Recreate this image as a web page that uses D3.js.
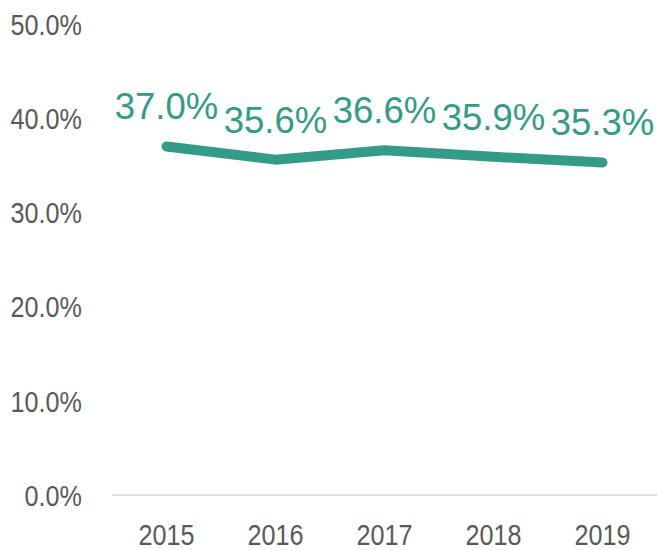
<!DOCTYPE html>
<html lang="en">
<head>
    <meta charset="UTF-8">
    <title>Share by year</title>
    <script src="https://cdn.jsdelivr.net/npm/d3@7/dist/d3.min.js"></script>
    <style>
        body { margin: 0; background: #fff; }
        text { font-family: "Liberation Sans", Arial, sans-serif; }
    </style>
</head>
<body>
    <script>
        // data
        var years = ['2015', '2016', '2017', '2018', '2019'];
        var values = [37.0, 35.6, 36.6, 35.9, 35.3];
        var yTicks = [0, 10, 20, 30, 40, 50];

        var w = 657;
        var h = 550;
        var teal = '#339b87';
        var grey = '#595959';

        var svg = d3.select('body')
                    .append('svg')
                    .attr('width', w)
                    .attr('height', h);

        var xScale = d3.scaleBand()
                        .domain(years)
                        .range([112, 657]);

        var yScale = d3.scaleLinear()
                        .domain([0, 50])
                        .range([495, 24]);

        //baseline
        svg.append('line')
            .attr('x1', 112)
            .attr('x2', 657)
            .attr('y1', yScale(0))
            .attr('y2', yScale(0))
            .attr('stroke', '#d9d9d9')
            .attr('stroke-width', 1.5);

        //y labels (narrow font look)
        svg.append('g')
            .selectAll('text')
            .data(yTicks)
            .enter()
            .append('text')
            .attr('transform', function(d) {
                return 'translate(82,' + yScale(d) + ') scale(0.84,1)';
            })
            .attr('dy', '0.36em')
            .attr('text-anchor', 'end')
            .attr('fill', grey)
            .attr('font-size', 30)
            .text(function(d) { return d.toFixed(1) + '%'; });

        //x labels
        svg.append('g')
            .selectAll('text')
            .data(years)
            .enter()
            .append('text')
            .attr('transform', function(d) {
                return 'translate(' + (xScale(d) + xScale.bandwidth() / 2) + ',545) scale(0.84,1)';
            })
            .attr('text-anchor', 'middle')
            .attr('fill', grey)
            .attr('font-size', 30)
            .text(function(d) { return d; });

        //line
        var line = d3.line()
                    .x(function(d, i) { return xScale(years[i]) + xScale.bandwidth() / 2; })
                    .y(function(d) { return yScale(d); });

        svg.append('path')
            .datum(values)
            .attr('d', line)
            .attr('fill', 'none')
            .attr('stroke', teal)
            .attr('stroke-width', 10)
            .attr('stroke-linecap', 'round')
            .attr('stroke-linejoin', 'round');

        //data labels
        svg.append('g')
            .selectAll('text')
            .data(values)
            .enter()
            .append('text')
            .attr('x', function(d, i) { return xScale(years[i]) + xScale.bandwidth() / 2; })
            .attr('y', function(d) { return yScale(d) - 27; })
            .attr('text-anchor', 'middle')
            .attr('fill', teal)
            .attr('font-size', 36.5)
            .text(function(d) { return d.toFixed(1) + '%'; });
    </script>
</body>
</html>
